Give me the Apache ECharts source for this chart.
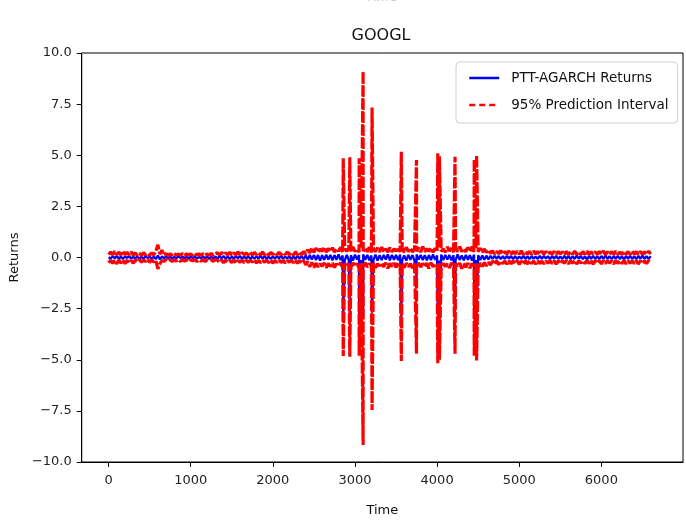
<!DOCTYPE html>
<html>
<head>
<meta charset="utf-8">
<script src="https://cdn.jsdelivr.net/npm/echarts@6/dist/echarts.min.js"></script>
<style>html,body{margin:0;padding:0;background:#fff;}#c{width:686px;height:529px;}</style>
</head>
<body>
<div id="c"></div>
<script>
// time step of the base samples
const timeStep = 25;
const xTicks = [0, 1000, 2000, 3000, 4000, 5000, 6000];

// upper bound of 95% prediction interval (t = 0, 25, 50, ...)
const piUpper = [
 0.14,0.27,0.13,0.3,0.15,0.26,0.12,0.31,0.14,0.25,0.13,0.28,0.12,
 0.22,0.11,0.2,0.1,0.24,0.12,0.19,0.11,0.23,0.12,
 0.3,0.62,0.16,0.36,
 0.11,0.19,0.1,0.18,0.12,0.2,0.1,0.17,0.11,0.19,0.1,0.18,0.12,0.17,0.1,0.2,0.11,0.18,0.1,0.19,0.12,0.17,0.11,0.2,0.1,0.18,
 0.23,0.12,0.25,0.13,0.22,0.14,0.26,0.12,0.23,0.13,0.27,0.12,0.24,0.14,0.22,0.13,0.26,0.12,0.25,0.14,
 0.23,0.12,0.27,0.13,0.22,0.12,0.25,0.14,0.24,0.13,0.26,0.12,0.23,0.14,0.27,0.13,0.25,0.12,0.28,0.14,0.26,0.13,0.3,
 0.17,0.38,0.22,0.48,0.25,
 0.46,0.27,0.42,0.3,0.5,0.26,0.44,0.29,0.48,0.27,
 0.41,0.31,0.5,0.25,0.43,0.3,0.46,0.27,0.52,0.29,
 0.42,0.26,0.48,0.31,0.45,0.28,0.5,0.25,0.4,0.29,
 0.47,0.27,0.51,0.3,0.43,0.26,0.48,0.28,0.42,0.31,
 0.49,0.27,0.44,0.25,0.5,0.29,0.46,0.27,0.41,0.3,
 0.48,0.26,0.53,0.28,0.43,0.3,0.47,0.25,0.45,0.27,
 0.5,0.29,0.42,0.26,0.52,0.31,0.46,0.26,0.48,0.28,
 0.54,0.29,0.44,0.27,0.5,0.3,0.53,0.27,0.47,
 0.28,0.46,0.25,0.42,0.24,0.38,0.2,
 0.33,0.17,0.3,0.18,0.34,0.16,0.29,0.17,0.32,0.15,
 0.3,0.18,0.31,0.16,0.33,0.15,0.28,0.17,0.3,0.15,
 0.32,0.17,0.29,0.16,0.31,0.15,0.3,0.17,0.27,0.15,
 0.3,0.16,0.29,0.17,
 0.28,0.15,0.3,0.14,0.27,0.16,0.31,0.15,0.28,0.14,
 0.29,0.16,0.31,0.14,0.28,0.17,0.27,0.15,0.3,0.16,
 0.32,0.14,0.28,0.16,0.29,0.15,0.31,0.16,0.27,0.14,
 0.3,0.16,0.29,0.15,0.31,0.16,0.29,0.14,0.3,0.16,
 0.28,0.15,0.31,0.17
];

// lower bound of 95% prediction interval
const piLower = [
 -0.26,-0.13,-0.29,-0.14,-0.31,-0.12,-0.27,-0.15,-0.3,-0.13,-0.25,-0.14,-0.28,
 -0.12,-0.21,-0.11,-0.23,-0.12,-0.2,-0.1,-0.24,-0.11,-0.22,
 -0.14,-0.56,-0.3,-0.15,
 -0.19,-0.11,-0.18,-0.1,-0.2,-0.12,-0.17,-0.11,-0.19,-0.1,-0.18,-0.12,-0.2,-0.1,-0.17,-0.11,-0.19,-0.12,-0.18,-0.1,-0.2,-0.11,-0.17,-0.12,-0.19,-0.1,
 -0.13,-0.24,-0.12,-0.26,-0.14,-0.22,-0.13,-0.25,-0.12,-0.27,
 -0.14,-0.23,-0.12,-0.26,-0.13,-0.24,-0.14,-0.22,-0.12,-0.27,
 -0.13,-0.25,-0.14,-0.23,-0.12,-0.26,-0.13,-0.28,-0.14,-0.24,
 -0.12,-0.25,-0.13,-0.27,-0.14,-0.23,-0.12,-0.26,-0.13,-0.29,
 -0.14,-0.27,-0.15,
 -0.36,-0.2,-0.46,-0.24,-0.5,
 -0.27,-0.46,-0.3,-0.43,-0.26,-0.5,-0.29,-0.44,-0.27,-0.49,
 -0.31,-0.42,-0.25,-0.51,-0.29,-0.45,-0.3,-0.48,-0.26,-0.41,
 -0.3,-0.52,-0.27,-0.45,-0.25,-0.47,-0.29,-0.43,-0.27,-0.5,
 -0.31,-0.41,-0.28,-0.46,-0.26,-0.53,-0.29,-0.44,-0.27,-0.48,
 -0.25,-0.42,-0.3,-0.5,-0.27,-0.45,-0.31,-0.51,-0.28,-0.41,
 -0.26,-0.47,-0.29,-0.44,-0.27,-0.54,-0.25,-0.46,-0.3,-0.43,
 -0.27,-0.49,-0.28,-0.45,-0.3,-0.51,-0.26,-0.46,-0.29,-0.42,
 -0.27,-0.55,-0.3,-0.48,-0.27,-0.52,-0.29,-0.45,-0.28,
 -0.5,-0.27,-0.44,-0.25,-0.41,-0.23,-0.37,
 -0.17,-0.32,-0.16,-0.35,-0.18,-0.3,-0.17,-0.33,-0.15,-0.31,
 -0.17,-0.29,-0.16,-0.34,-0.18,-0.31,-0.17,-0.32,-0.15,-0.3,
 -0.17,-0.33,-0.16,-0.29,-0.18,-0.31,-0.17,-0.28,-0.15,-0.3,
 -0.17,-0.32,-0.16,-0.3,
 -0.15,-0.29,-0.14,-0.31,-0.16,-0.28,-0.15,-0.32,-0.16,-0.27,
 -0.17,-0.3,-0.14,-0.29,-0.16,-0.33,-0.15,-0.28,-0.16,-0.31,
 -0.14,-0.29,-0.16,-0.27,-0.17,-0.32,-0.15,-0.29,-0.16,-0.3,
 -0.14,-0.31,-0.16,-0.28,-0.16,-0.3,-0.15,-0.32,-0.16,-0.29,
 -0.17,-0.3,-0.15,-0.27
];

// PTT-AGARCH returns
const returns = [
 0.02,-0.05,0.06,-0.03,0.07,-0.06,0.04,-0.07,0.05,-0.02,0.06,-0.05,0.03,
 -0.04,0.05,-0.06,0.03,-0.05,0.06,-0.03,0.04,-0.06,0.05,
 -0.08,0.1,-0.09,0.06,
 -0.04,0.05,-0.03,0.04,-0.05,0.03,-0.04,0.05,-0.02,0.04,-0.05,0.03,-0.04,0.05,-0.03,0.04,-0.05,0.02,-0.04,0.05,-0.03,0.04,-0.05,0.03,-0.04,0.05,
 -0.05,0.06,-0.04,0.07,-0.06,0.05,-0.07,0.04,-0.05,0.06,-0.04,0.07,-0.06,0.05,-0.05,0.06,-0.07,0.04,-0.06,0.05,-0.04,0.07,-0.05,0.06,-0.06,0.04,-0.07,0.05,-0.05,0.06,-0.04,0.07,-0.06,0.05,-0.05,0.06,-0.07,0.04,-0.06,0.07,-0.05,0.06,-0.08,
 0.1,-0.11,0.12,-0.1,0.13,
 -0.13,0.12,-0.15,0.11,-0.12,0.14,-0.1,0.13,-0.14,0.12,
 -0.11,0.15,-0.13,0.1,-0.14,0.13,-0.12,0.11,-0.15,0.14,
 -0.1,0.12,-0.13,0.15,-0.11,0.13,-0.14,0.1,-0.12,0.14,
 -0.15,0.11,-0.13,0.12,-0.1,0.15,-0.14,0.13,-0.11,0.12,
 -0.13,0.14,-0.12,0.1,-0.15,0.13,-0.11,0.12,-0.14,0.15,
 -0.1,0.13,-0.12,0.11,-0.14,0.12,-0.13,0.15,-0.11,0.1,
 -0.15,0.14,-0.12,0.13,-0.1,0.12,-0.14,0.11,-0.13,0.15,
 -0.12,0.1,-0.14,0.13,-0.11,0.12,-0.15,0.14,-0.12,
 0.11,-0.12,0.1,-0.11,0.09,-0.1,0.08,
 -0.07,0.08,-0.06,0.07,-0.08,0.06,-0.07,0.08,-0.05,0.07,
 -0.08,0.06,-0.07,0.05,-0.06,0.08,-0.07,0.06,-0.08,0.07,
 -0.06,0.05,-0.07,0.08,-0.06,0.07,-0.05,0.06,-0.08,0.07,
 -0.06,0.08,-0.07,0.05,
 -0.07,0.08,-0.06,0.07,-0.08,0.06,-0.07,0.09,-0.06,0.07,
 -0.08,0.06,-0.09,0.07,-0.06,0.08,-0.07,0.06,-0.08,0.07,
 -0.06,0.09,-0.07,0.06,-0.08,0.07,-0.06,0.08,-0.07,0.06,
 -0.09,0.07,-0.06,0.08,-0.07,0.06,-0.08,0.07,-0.06,0.09,
 -0.07,0.06,-0.08,0.07
];

// volatility spikes
const spikeTimes   = [2857, 2937, 3051, 3099, 3208, 3564, 3749, 4008, 4028, 4218, 4452, 4481];
const spikeUpper   = [4.85, 4.9, 4.85, 9.09, 7.34, 5.17, 4.77, 5.1, 4.95, 4.93, 4.8, 5.0];
const spikeLower   = [-4.82, -4.85, -4.8, -9.17, -7.46, -5.06, -4.69, -5.17, -5.0, -4.7, -4.8, -5.04];
const spikeReturns = [-2.75, -2.8, -2.85, -2.9, -2.7, -2.9, -1.0, -2.8, -2.75, -2.85, -2.9, -2.9];

function build(base, spikes) {
  const pts = base.map((v, i) => [i * timeStep, v]);
  spikeTimes.forEach((t, k) => pts.push([t, spikes[k]]));
  pts.sort((a, b) => a[0] - b[0]);
  return pts;
}

const FONT = 'DejaVu Sans';
const chart = echarts.init(document.getElementById('c'), null, {renderer: 'canvas'});
const minusFmt = v => (v < 0 ? '\u2212' : '') + Math.abs(v).toFixed(1);
const redDash = [11, 2];

chart.setOption({
  animation: false,
  backgroundColor: '#fff',
  textStyle: {fontFamily: FONT},
  graphic: [
    {type: 'text', style: {text: 'Time', x: 381, y: -9, textAlign: 'center', textVerticalAlign: 'top', font: '13px "DejaVu Sans"', fill: '#c8c8c8'}},
    {type: 'text', style: {text: 'GOOGL', x: 381, y: 36, textAlign: 'center', textVerticalAlign: 'middle', font: '16px "DejaVu Sans"', fill: '#111'}}
  ],
  legend: {
    orient: 'vertical',
    left: 456, top: 62,
    padding: [9, 9, 11, 12],
    itemGap: 13,
    itemWidth: 30, itemHeight: 14,
    borderColor: '#d0d0d0', borderWidth: 1, borderRadius: 4,
    backgroundColor: 'rgba(255,255,255,0.85)',
    itemStyle: {opacity: 0},
    textStyle: {fontFamily: FONT, fontSize: 13.5, color: '#111', padding: [0,0,0,7]},
    data: [
      {name: 'PTT-AGARCH Returns', lineStyle: {width: 2.5}},
      {name: '95% Prediction Interval', lineStyle: {width: 2.5, type: [6, 4]}}
    ]
  },
  grid: {left: 79, right: 3, top: 53, bottom: 67, show: true, borderColor: '#000', borderWidth: 1, containLabel: false},
  xAxis: {
    type: 'value', min: -327, max: 6994,
    name: 'Time', nameLocation: 'middle', nameGap: 42,
    nameTextStyle: {fontFamily: FONT, fontSize: 13, color: '#111'},
    axisLine: {show: true, onZero: false, lineStyle: {color: '#000', width: 1}},
    axisTick: {show: true, length: 5, lineStyle: {color: '#000'}, customValues: xTicks},
    axisLabel: {fontFamily: FONT, fontSize: 13, color: '#222', margin: 12, customValues: xTicks, formatter: v => String(v)},
    splitLine: {show: false}
  },
  yAxis: {
    type: 'value', min: -10, max: 10, interval: 2.5,
    name: 'Returns', nameLocation: 'middle', nameGap: 58, nameRotate: 90,
    nameTextStyle: {fontFamily: FONT, fontSize: 13, color: '#111'},
    axisLine: {show: true, onZero: false, lineStyle: {color: '#000', width: 1}},
    axisTick: {show: true, length: 5, lineStyle: {color: '#000'}},
    axisLabel: {fontFamily: FONT, fontSize: 13, color: '#222', margin: 10, formatter: minusFmt},
    splitLine: {show: false}
  },
  series: [
    {name: 'PTT-AGARCH Returns', type: 'line', data: build(returns, spikeReturns), showSymbol: false, symbol: 'none',
     lineStyle: {color: '#0000ff', width: 2.3}, itemStyle: {color: '#0000ff'}, z: 2},
    {name: '95% Prediction Interval', type: 'line', data: build(piUpper, spikeUpper), showSymbol: false, symbol: 'none',
     lineStyle: {color: '#ff0000', width: 3.2, type: redDash}, itemStyle: {color: '#ff0000'}, z: 3},
    {name: '95% Prediction Interval', type: 'line', data: build(piLower, spikeLower), showSymbol: false, symbol: 'none',
     lineStyle: {color: '#ff0000', width: 3.2, type: redDash}, itemStyle: {color: '#ff0000'}, z: 3}
  ]
});
</script>
</body>
</html>
